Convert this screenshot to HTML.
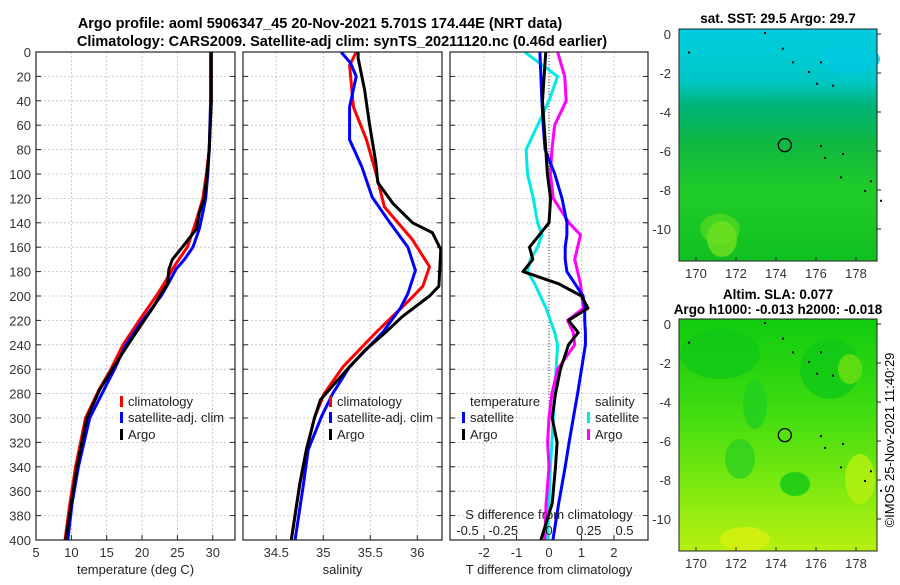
<!DOCTYPE html>
<html><head><meta charset="utf-8"><style>
body{margin:0;background:#fff}
svg{font-family:"Liberation Sans","DejaVu Sans",sans-serif}
</style></head><body>
<svg id="fig" width="900" height="580" viewBox="0 0 900 580" xmlns="http://www.w3.org/2000/svg">
<defs>
<linearGradient id="sstg" x1="0" y1="0" x2="0" y2="1">
<stop offset="0" stop-color="#00cce0"/><stop offset="0.22" stop-color="#00c8c8"/><stop offset="0.33" stop-color="#00b478"/><stop offset="0.5" stop-color="#10b840"/><stop offset="0.7" stop-color="#20cc28"/><stop offset="1" stop-color="#10c020"/>
</linearGradient>
<linearGradient id="slag" x1="0" y1="0" x2="0" y2="1">
<stop offset="0" stop-color="#10cc10"/><stop offset="0.4" stop-color="#40dc10"/><stop offset="0.7" stop-color="#78e810"/><stop offset="1" stop-color="#b8f010"/>
</linearGradient>
</defs>
<text x="320" y="28" text-anchor="middle" font-size="14.5" font-weight="bold">Argo profile: aoml 5906347_45 20-Nov-2021 5.701S 174.44E (NRT data)</text>
<text x="342" y="46" text-anchor="middle" font-size="14.5" font-weight="bold">Climatology: CARS2009. Satellite-adj clim: synTS_20211120.nc (0.46d earlier)</text>
<g id="panels"></g>
<g id="maps"></g>
<text transform="translate(894,440) rotate(-90)" text-anchor="middle" font-size="13">©IMOS 25-Nov-2021 11:40:29</text>
</svg>
<script>
// ---------- data ----------
const depthTicks = [0,20,40,60,80,100,120,140,160,180,200,220,240,260,280,300,320,340,360,380,400];
const tempTicks = [5,10,15,20,25,30];
const salTicks = [34.5,35,35.5,36];
const tdiffTicks = [-2,-1,0,1,2];
const sdiffTicks = [-0.5,-0.25,0,0.25,0.5];
const sdiffTickLabels = ["-0.5","-0.25","0","0.25","0.5"];

const tempDepths = [0,40,80,100,120,132,145,160,170,178,190,200,210,220,240,260,277,300,340,370,400];
const tempArgo = [29.8,29.8,29.5,29.2,28.8,28.1,27.7,25.7,24.3,23.8,23.6,22.5,21.5,20.3,18.0,15.8,14.0,12.2,10.8,10.0,9.2];
const tempClim = [29.8,29.8,29.5,29.1,28.6,28.0,27.3,26.4,25.2,24.3,23.1,22.0,20.8,19.6,17.3,15.6,13.9,12.0,10.6,9.8,9.1];
const tempSat  = [29.7,29.7,29.5,29.3,29.0,28.6,28.1,27.2,26.0,24.8,23.7,22.7,21.4,20.1,17.7,16.1,14.6,12.6,11.0,10.1,9.5];

const salArgoDepths = [0,5,31,58,91,107,124,140,148,162,192,200,217,230,244,258,271,285,299,326,354,400];
const salArgo = [35.37,35.37,35.44,35.49,35.56,35.58,35.74,35.95,36.16,36.25,36.23,36.13,35.84,35.66,35.45,35.28,35.13,34.97,34.91,34.82,34.75,34.66];
const salClimDepths = [0,11,45,72,99,127,154,176,192,203,230,258,280,299,326,354,400];
const salClim = [35.35,35.28,35.32,35.46,35.56,35.65,35.95,36.13,36.06,35.92,35.56,35.21,35.01,34.91,34.82,34.75,34.66];
const salSatDepths = [0,9,20,45,72,94,119,140,160,179,198,210,230,258,280,299,326,354,400];
const salSat = [35.19,35.29,35.35,35.28,35.28,35.41,35.52,35.71,35.9,35.98,35.9,35.82,35.63,35.28,35.1,34.98,34.84,34.79,34.7];

const diffDepths = [0,20,40,60,80,100,120,140,150,160,170,180,190,200,210,220,230,240,260,280,300,320,340,370,400];
const tdiffSat  = [-0.28,-0.25,-0.22,-0.18,-0.12,0.18,0.4,0.55,0.55,0.5,0.5,0.55,0.8,1.05,1.1,1.1,1.12,1.12,1.0,0.88,0.75,0.62,0.5,0.3,0.12];
const tdiffArgo = [-0.1,-0.15,-0.2,-0.15,-0.1,-0.05,0.05,0.0,-0.3,-0.6,-0.5,-0.8,0.3,1.0,1.2,0.6,0.9,0.6,0.35,0.2,0.1,0.25,0.2,0.1,-0.25];
const sdiffSat  = [-0.17,0.06,0.0,-0.08,-0.16,-0.15,-0.11,-0.08,-0.05,-0.08,-0.13,-0.15,-0.1,-0.06,-0.02,0.01,0.04,0.06,0.05,0.04,0.03,0.02,0.01,0.0,-0.01];
const sdiffArgo = [0.06,0.11,0.12,0.04,0.02,0.01,0.03,0.14,0.22,0.2,0.18,0.2,0.22,0.23,0.24,0.13,0.17,0.18,0.06,0.02,0.0,-0.01,0.0,-0.02,-0.03];

const lonTicks = [170,172,174,176,178];
const latTicks = [0,-2,-4,-6,-8,-10];
const floatLon = 174.44, floatLat = -5.7;

// ---------- helpers ----------
const NS = "http://www.w3.org/2000/svg";
function mk(tag, attrs, parent){ const e=document.createElementNS(NS,tag); for(const k in attrs) e.setAttribute(k,attrs[k]); parent.appendChild(e); return e; }
function txt(s, attrs, parent){ const e=mk("text",attrs,parent); e.textContent=s; return e; }
const panelsG = document.getElementById("panels");
const yTop=52, yBot=540;
const yD = d => yTop + (d/400)*(yBot-yTop);

function panel(name, x0, x1, vmin, vmax, ticks, tickLabels, xlabel, showDepth){
  const g = mk("g",{},panelsG);
  
  
  const xs = v => x0 + (v-vmin)/(vmax-vmin)*(x1-x0);
  for(const d of depthTicks){
    const gl = mk("line",{x1:x0,x2:x1,y1:yD(d),y2:yD(d),stroke:"#b8c4dc","stroke-width":0.8,"stroke-dasharray":"2,2"},g);
    
    
    mk("line",{x1:x0,x2:x0+5,y1:yD(d),y2:yD(d),stroke:"#222"},g);
    mk("line",{x1:x1-5,x2:x1,y1:yD(d),y2:yD(d),stroke:"#222"},g);
    if(showDepth){
      const t = txt(String(d),{x:x0-5,y:yD(d)+5,"text-anchor":"end","font-size":13,fill:"#333"},g);
      
      
    }
  }
  ticks.forEach((v,i)=>{
    mk("line",{x1:xs(v),x2:xs(v),y1:yTop,y2:yBot,stroke:"#c8b8c8","stroke-width":0.8,"stroke-dasharray":"2,2"},g);
    mk("line",{x1:xs(v),x2:xs(v),y1:yBot-5,y2:yBot,stroke:"#222"},g);
    const t = txt(tickLabels[i],{x:xs(v),y:557,"text-anchor":"middle","font-size":13,fill:"#333"},g);
    
    
  });
  const xl = txt(xlabel,{x:(x0+x1)/2,y:574,"text-anchor":"middle","font-size":13,fill:"#222"},g);
  
  
  return {g, xs, x0, x1};
}
function series(p, depths, vals, color, name, xs){
  xs = xs || p.xs;
  const pts = depths.map((d,i)=>xs(vals[i]).toFixed(1)+","+yD(d).toFixed(1)).join(" ");
  const l = mk("polyline",{points:pts,fill:"none",stroke:color,"stroke-width":3,"stroke-linejoin":"round","clip-path":"url(#"+p.clip+")"},p.g);
  
  
}
function clip(p,id){
  const defs = document.querySelector("defs");
  const c = mk("clipPath",{id:id},defs);
  mk("rect",{x:p.x0,y:yTop,width:p.x1-p.x0,height:yBot-yTop},c);
  p.clip=id;
}
function frame(p){
  const f = mk("rect",{x:p.x0,y:yTop,width:p.x1-p.x0,height:yBot-yTop,fill:"none",stroke:"#222","stroke-width":1.2},p.g);
  
  
}
function legend(g, x, y, color, label){
  const m = mk("rect",{x:x,y:y-10,width:3,height:11,fill:color},g);
  
  
  const t = txt(label,{x:x+8,y:y,"font-size":13,fill:"#222"},g);
  
  
}

// Panel 1: temperature
const p1 = panel("temperature-panel",36,235,5,33.15,tempTicks,tempTicks.map(String),"temperature (deg C)",true);
clip(p1,"c1");
series(p1,tempDepths,tempClim,"#ff0000","temp-climatology-line");
series(p1,tempDepths,tempSat,"#0000ff","temp-satellite-line");
series(p1,tempDepths,tempArgo,"#000000","temp-argo-line");
legend(p1.g,120,406,"#ff0000","climatology");
legend(p1.g,120,422,"#0000ff","satellite-adj. clim");
legend(p1.g,120,439,"#000000","Argo");
frame(p1);

// Panel 2: salinity
const p2 = panel("salinity-panel",243,442,34.146,36.263,salTicks,salTicks.map(String),"salinity",false);
clip(p2,"c2");
series(p2,salClimDepths,salClim,"#ff0000","sal-climatology-line");
series(p2,salSatDepths,salSat,"#0000ff","sal-satellite-line");
series(p2,salArgoDepths,salArgo,"#000000","sal-argo-line");
legend(p2.g,329,406,"#ff0000","climatology");
legend(p2.g,329,422,"#0000ff","satellite-adj. clim");
legend(p2.g,329,439,"#000000","Argo");
frame(p2);

// Panel 3: differences
const p3 = panel("difference-panel",450,648,-3.05,3.05,tdiffTicks,tdiffTicks.map(String),"T difference from climatology",false);
clip(p3,"c3");
const xsS = v => 549 + v*143;
mk("line",{x1:549,x2:549,y1:yTop,y2:yBot,stroke:"#444","stroke-width":1,"stroke-dasharray":"1,2"},p3.g);
series(p3,diffDepths,sdiffSat,"#00e8e8","sdiff-satellite-line",xsS);
series(p3,diffDepths,sdiffArgo,"#ff00ff","sdiff-argo-line",xsS);
series(p3,diffDepths,tdiffSat,"#0000ff","tdiff-satellite-line");
series(p3,diffDepths,tdiffArgo,"#000000","tdiff-argo-line");
const th = txt("temperature",{x:470,y:406,"font-size":13,fill:"#222"},p3.g);


legend(p3.g,462,422,"#0000ff","satellite");
legend(p3.g,462,439,"#000000","Argo");
const sh = txt("salinity",{x:595,y:406,"font-size":13,fill:"#222"},p3.g);


legend(p3.g,587,422,"#00e8e8","satellite");
legend(p3.g,587,439,"#ff00ff","Argo");
const sTitle = txt("S difference from climatology",{x:549,y:519,"text-anchor":"middle","font-size":13,fill:"#222"},p3.g);


sdiffTicks.forEach((v,i)=>{
  const t = txt(sdiffTickLabels[i],{x:xsS(v)+(v<0?-10:v>0?4:0),y:535,"text-anchor":"middle","font-size":13,fill:"#222"},p3.g);
  
  
});
frame(p3);

// ---------- maps ----------
const mapsG = document.getElementById("maps");
function map(name, y0, fill, t1, t2, blobs){
  const g = mk("g",{},mapsG);
  
  
  const x0=679, x1=877, y1=y0+232;
  const lx = lon => 696 + (lon-170)*20;
  const ly = lat => y0+5 - lat*19.5;
  mk("rect",{x:x0,y:y0,width:x1-x0,height:y1-y0,fill:fill},g);
  blobs.forEach(b=>mk("ellipse",{cx:b[0],cy:b[1]+y0,rx:b[2],ry:b[3],fill:b[4],opacity:0.8},g));
  mk("rect",{x:x0,y:y0,width:x1-x0,height:y1-y0,fill:"none",stroke:"#222"},g);
  lonTicks.forEach(l=>{
    mk("line",{x1:lx(l),x2:lx(l),y1:y1,y2:y1-4,stroke:"#222"},g);
    const t=txt(String(l),{x:lx(l),y:y1+17,"text-anchor":"middle","font-size":13,fill:"#333"},g);
    
    
  });
  latTicks.forEach(l=>{
    mk("line",{x1:x1,x2:x1+4,y1:ly(l),y2:ly(l),stroke:"#222"},g);
    const t=txt(String(l),{x:x0-8,y:ly(l)+5,"text-anchor":"end","font-size":13,fill:"#333"},g);
    
    
  });
  [[173.4,0.1],[174.3,-0.7],[174.8,-1.4],[176.2,-1.4],[175.6,-1.9],[176.0,-2.5],[176.8,-2.6],[176.2,-5.7],[176.4,-6.3],[177.3,-6.1],[177.2,-7.3],[178.4,-8.0],[178.7,-7.5],[179.2,-8.5],[169.6,-0.9]].forEach(p=>mk("rect",{x:lx(p[0]),y:ly(p[1]),width:2,height:2,fill:"#000"},g));
  const c = mk("circle",{cx:lx(floatLon),cy:ly(floatLat),r:6.5,fill:"none",stroke:"#000","stroke-width":1.3},g);
  
  
  const a = txt(t1,{x:778,y:y0-(t2?20:6),"text-anchor":"middle","font-size":13.5,"font-weight":"bold"},g);
  
  
  if(t2){const b=txt(t2,{x:778,y:y0-5,"text-anchor":"middle","font-size":13.5,"font-weight":"bold"},g);
    
    }
}
map("sst-map",29,"url(#sstg)","sat. SST: 29.5  Argo: 29.7",null,
  [[720,200,20,15,"#50d820"],[722,210,15,18,"#70e020"],[850,30,30,15,"#00c8e0"]]);
map("sla-map",319,"url(#slag)","Altim. SLA: 0.077","Argo h1000: -0.013 h2000: -0.018",
  [[720,35,40,25,"#10c818"],[830,50,30,30,"#10c818"],[755,85,12,25,"#20d020"],[795,165,15,12,"#10c818"],[740,140,15,20,"#30d020"],[850,50,12,15,"#70e010"],[745,220,25,12,"#d8f010"],[860,160,15,25,"#b8f010"]]);
</script>
</body></html>
